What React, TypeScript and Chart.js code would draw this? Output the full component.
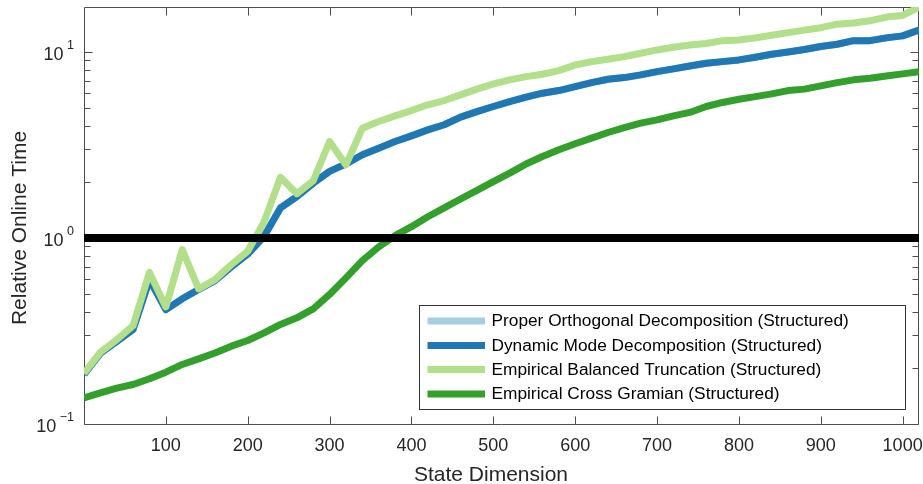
import { useEffect, useRef } from 'react';
import { Chart, registerables } from 'chart.js';

Chart.register(...registerables);

const FONT = '"Liberation Sans", Arial, Helvetica, sans-serif';

const stateDims = [
  0, 20, 40, 60, 80, 100, 120, 140, 160, 180, 200, 220, 240, 260, 280, 300, 320, 340, 360, 380,
  400, 420, 440, 460, 480, 500, 520, 540, 560, 580, 600, 620, 640, 660, 680, 700, 720, 740, 760, 780,
  800, 820, 840, 860, 880, 900, 920, 940, 960, 980, 1000, 1020,
];

const podValues = [
  0.185, 0.24, 0.278, 0.322, 0.597, 0.412, 0.471, 0.528, 0.59, 0.70, 0.82, 1.02, 1.45, 1.67, 1.97, 2.28, 2.50, 2.80, 3.04, 3.30,
  3.54, 3.81, 4.06, 4.46, 4.78, 5.09, 5.41, 5.71, 6.00, 6.20, 6.51, 6.84, 7.13, 7.28, 7.53, 7.84, 8.11, 8.40, 8.69, 8.87,
  9.06, 9.37, 9.72, 10.0, 10.3, 10.7, 11.0, 11.5, 11.5, 11.9, 12.2, 13.1,
];

const dmdValues = [
  0.185, 0.24, 0.278, 0.322, 0.597, 0.412, 0.471, 0.528, 0.59, 0.70, 0.82, 1.02, 1.45, 1.67, 1.97, 2.28, 2.50, 2.80, 3.04, 3.30,
  3.54, 3.81, 4.06, 4.46, 4.78, 5.09, 5.41, 5.71, 6.00, 6.20, 6.51, 6.84, 7.13, 7.28, 7.53, 7.84, 8.11, 8.40, 8.69, 8.87,
  9.06, 9.37, 9.72, 10.0, 10.3, 10.7, 11.0, 11.5, 11.5, 11.9, 12.2, 13.1,
];

const ebtValues = [
  0.187, 0.243, 0.284, 0.338, 0.653, 0.426, 0.865, 0.532, 0.597, 0.719, 0.848, 1.22, 2.12, 1.73, 2.03, 3.30, 2.47, 3.89, 4.23, 4.53,
  4.84, 5.20, 5.48, 5.88, 6.31, 6.73, 7.08, 7.37, 7.59, 7.93, 8.51, 8.87, 9.14, 9.44, 9.84, 10.25, 10.6, 10.9, 11.1, 11.5,
  11.6, 11.9, 12.3, 12.7, 13.1, 13.5, 14.1, 14.3, 14.7, 15.4, 15.7, 17.4,
];

const ecgValues = [
  0.138, 0.147, 0.156, 0.163, 0.175, 0.190, 0.209, 0.224, 0.241, 0.262, 0.281, 0.309, 0.343, 0.372, 0.416, 0.497, 0.61, 0.755, 0.895, 1.03,
  1.15, 1.30, 1.45, 1.62, 1.80, 2.01, 2.23, 2.50, 2.74, 2.98, 3.21, 3.44, 3.69, 3.92, 4.14, 4.31, 4.53, 4.73, 5.09, 5.35,
  5.57, 5.75, 5.95, 6.20, 6.31, 6.57, 6.84, 7.08, 7.22, 7.43, 7.62, 7.84,
];

const seriesLabels = [
  'Proper Orthogonal Decomposition (Structured)',
  'Dynamic Mode Decomposition (Structured)',
  'Empirical Balanced Truncation (Structured)',
  'Empirical Cross Gramian (Structured)',
];
const seriesColors = ['#a6cee3', '#1f78b4', '#b2df8a', '#33a02c'];

const referenceLevel = 1;
const xTickValues = [100, 200, 300, 400, 500, 600, 700, 800, 900, 1000];
const yMajorTicks = [0.1, 1, 10];
const yTickExponents = ['−1', '0', '1'];
const xMin = 0;
const xMax = 1020;
const yMin = 0.1;
const yMax = 17.44;
const xTitle = 'State Dimension';
const yTitle = 'Relative Online Time';

const toPoints = (vals: number[]) => stateDims.map((d, i) => ({ x: d, y: vals[i] }));

const axesPlugin = {
  id: 'matlabAxes',
  beforeDatasetsDraw(chart: any) {
    const { ctx, chartArea: a, scales } = chart;
    const xs = scales.x;
    const ys = scales.y;
    ctx.save();
    ctx.strokeStyle = '#4d4d4d';
    ctx.lineWidth = 1;
    const L = Math.round(a.left) + 0.5;
    const R = Math.round(a.right) - 0.5;
    const T = Math.round(a.top) + 0.5;
    const B = Math.round(a.bottom) + 0.5;
    ctx.beginPath();
    ctx.rect(L, T, R - L, B - T);
    ctx.stroke();
    ctx.beginPath();
    for (const v of xTickValues) {
      const px = Math.round(xs.getPixelForValue(v)) + 0.5;
      ctx.moveTo(px, B);
      ctx.lineTo(px, B - 8);
      ctx.moveTo(px, T);
      ctx.lineTo(px, T + 8);
    }
    for (let k = -1; k <= 1; k++) {
      for (let m = 1; m <= 9; m++) {
        const v = m * Math.pow(10, k);
        if (v < yMin - 1e-9 || v > yMax) continue;
        const py = Math.round(ys.getPixelForValue(v)) + 0.5;
        const len = m === 1 ? 8 : 6;
        ctx.moveTo(L, py);
        ctx.lineTo(L + len, py);
        ctx.moveTo(R, py);
        ctx.lineTo(R - len, py);
      }
    }
    ctx.stroke();
    ctx.restore();
  },
  afterDraw(chart: any) {
    const { ctx, scales } = chart;
    const ys = scales.y;
    ctx.save();
    ctx.fillStyle = '#262626';
    yMajorTicks.forEach((v, i) => {
      const py = ys.getPixelForValue(v);
      const exp = yTickExponents[i];
      ctx.textAlign = 'right';
      ctx.textBaseline = 'middle';
      ctx.font = `12.5px ${FONT}`;
      const expW = ctx.measureText(exp).width;
      const right = 74;
      ctx.fillText(exp, right, py - 6);
      ctx.font = `18px ${FONT}`;
      ctx.fillText('10', right - expW - 3.5, py + 3);
    });
    ctx.font = `21px ${FONT}`;
    ctx.textAlign = 'center';
    ctx.textBaseline = 'alphabetic';
    ctx.fillText(xTitle, 491, 480.5);
    ctx.save();
    ctx.translate(26, 228);
    ctx.rotate(-Math.PI / 2);
    ctx.fillText(yTitle, 0, 0);
    ctx.restore();
    const lx0 = 419.5, ly0 = 305.5, lx1 = 905.5, ly1 = 409.5;
    ctx.fillStyle = '#ffffff';
    ctx.fillRect(lx0, ly0, lx1 - lx0, ly1 - ly0);
    ctx.strokeStyle = '#333333';
    ctx.lineWidth = 1;
    ctx.strokeRect(lx0, ly0, lx1 - lx0, ly1 - ly0);
    const rows = [321, 345.5, 369.5, 394];
    const legendSets = chart.data.datasets.filter((d: any) => d.label);
    legendSets.forEach((ds: any, i: number) => {
      const yy = rows[i];
      ctx.strokeStyle = ds.borderColor;
      ctx.lineWidth = 7;
      ctx.lineCap = 'butt';
      ctx.beginPath();
      ctx.moveTo(427.5, yy);
      ctx.lineTo(485, yy);
      ctx.stroke();
      ctx.fillStyle = '#000000';
      ctx.font = `17.3px ${FONT}`;
      ctx.textAlign = 'left';
      ctx.textBaseline = 'middle';
      ctx.fillText(ds.label, 491.5, yy + 0.5);
    });
    ctx.restore();
  },
};

export default function App() {
  const ref = useRef<HTMLCanvasElement | null>(null);
  useEffect(() => {
    document.body.style.margin = '0';
    const canvas = ref.current;
    if (!canvas) return;
    const lineDs = (label: string, vals: number[], color: string, order: number) => ({
      label,
      data: toPoints(vals),
      borderColor: color,
      backgroundColor: color,
      borderWidth: 7,
      pointRadius: 0,
      pointHoverRadius: 0,
      fill: false,
      tension: 0,
      borderJoinStyle: 'round',
      order,
    });
    const chart = new Chart(canvas, {
      type: 'line',
      data: {
        datasets: [
          lineDs(seriesLabels[0], podValues, seriesColors[0], 4),
          lineDs(seriesLabels[1], dmdValues, seriesColors[1], 3),
          lineDs(seriesLabels[2], ebtValues, seriesColors[2], 2),
          lineDs(seriesLabels[3], ecgValues, seriesColors[3], 1),
          {
            label: '',
            data: [
              { x: stateDims[0], y: referenceLevel },
              { x: stateDims[stateDims.length - 1], y: referenceLevel },
            ],
            borderColor: '#000000',
            backgroundColor: '#000000',
            borderWidth: 8,
            pointRadius: 0,
            pointHoverRadius: 0,
            fill: false,
            order: 0,
          },
        ],
      } as any,
      options: {
        animation: false,
        responsive: false,
        maintainAspectRatio: false,
        devicePixelRatio: 1,
        layout: { padding: { left: 0, top: 7, right: 4, bottom: 0 } },
        plugins: { legend: { display: false }, tooltip: { enabled: false } },
        events: [],
        scales: {
          x: {
            type: 'linear',
            min: xMin,
            max: xMax,
            grid: { display: false, drawTicks: false },
            border: { display: false },
            ticks: {
              font: { size: 18, family: FONT },
              color: '#262626',
              padding: 11,
              maxRotation: 0,
              autoSkip: false,
              callback: (v: any) => String(v),
            },
            afterBuildTicks: (s: any) => {
              s.ticks = xTickValues.map((v) => ({ value: v }));
            },
            afterFit: (s: any) => {
              s.height = 60;
              s.paddingLeft = 0;
              s.paddingRight = 0;
            },
          },
          y: {
            type: 'logarithmic',
            min: yMin,
            max: yMax,
            grid: { display: false, drawTicks: false },
            border: { display: false },
            ticks: { display: false },
            afterFit: (s: any) => {
              s.width = 84;
              s.paddingTop = 0;
              s.paddingBottom = 0;
            },
          },
        },
      } as any,
      plugins: [axesPlugin],
    });
    return () => chart.destroy();
  }, []);
  return (
    <div style={{ position: 'absolute', left: 0, top: 0, width: 923, height: 484, background: '#fff' }}>
      <canvas ref={ref} width={923} height={484} style={{ width: 923, height: 484, display: 'block' }} />
    </div>
  );
}
